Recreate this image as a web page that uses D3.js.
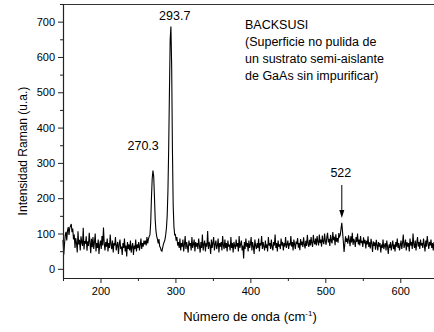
<!DOCTYPE html>
<html><head><meta charset="utf-8">
<script src="https://cdn.jsdelivr.net/npm/d3@7"></script>
<style>body{margin:0;background:#fff}svg{display:block}text{font-family:"Liberation Sans",Arial,sans-serif;fill:#000}</style>
</head><body><svg id="c" width="434" height="332"></svg>
<script>
const xStart = 150, xEnd = 645;
const intensity = [
82,40,70,95,105,80,108,118,96,116,
121,127,104,114,83,97,59,87,73,46,
106,69,82,52,92,75,65,116,55,79,
71,92,51,78,65,102,75,44,85,61,
90,56,76,100,49,73,59,83,42,69,
80,56,93,66,117,73,52,76,63,86,
49,73,59,97,69,56,80,46,73,66,
90,52,66,76,42,69,83,56,63,39,
73,59,86,49,66,35,76,56,69,52,
80,46,63,73,39,66,56,83,49,69,
59,76,52,66,86,56,73,63,80,69,
80,66,90,72,84,92,96,130,200,255,
278,262,205,140,108,92,84,72,84,64,
60,52,50,60,70,76,82,96,115,150,
220,340,500,650,686,570,340,180,120,96,
97,80,90,66,76,59,86,52,73,63,
83,49,69,93,56,76,63,46,80,66,
73,52,90,59,69,83,49,76,63,73,
56,86,66,46,76,59,97,52,69,80,
49,73,63,107,56,76,66,42,83,59,
73,90,52,69,80,56,66,86,46,73,
63,76,52,93,66,56,83,59,73,49,
80,63,69,52,90,59,73,46,76,66,
56,83,63,73,49,93,59,69,80,52,
66,29,76,56,86,63,73,49,80,59,
69,90,52,76,63,42,83,66,56,73,
59,86,49,73,66,93,56,76,63,52,
80,59,69,49,90,66,73,56,83,63,
52,76,66,97,59,73,49,80,63,69,
56,86,66,76,52,73,63,90,59,69,
80,56,73,66,93,63,76,52,83,69,
56,77,70,87,60,73,53,84,67,77,
62,89,69,58,79,65,96,72,62,82,
66,90,73,62,96,76,69,86,66,93,
77,66,97,73,83,63,94,77,70,100,
79,68,89,102,75,85,65,96,79,72,
104,81,91,67,98,77,87,74,101,91,
96,115,130,104,78,48,70,92,76,86,
71,95,81,64,92,75,102,68,85,78,
62,90,76,100,69,83,66,93,73,79,
62,89,72,82,58,79,69,92,62,75,
58,85,71,48,78,65,75,54,82,68,
52,76,63,73,46,69,59,83,56,66,
73,52,80,63,42,69,59,76,52,66,
80,56,69,49,76,63,86,59,73,52,
66,80,56,73,97,59,69,83,52,76,
63,73,49,86,66,76,56,100,69,59,
80,52,73,90,63,76,56,83,66,73,
59,86,69,49,80,63,93,73,56,76,
66,83,59,73,52,76
];
const wavenumber = d3.range(xStart, xEnd + 1);
const xTicks = [200, 300, 400, 500, 600];
const xMinor = [150, 250, 350, 450, 550];
const yTicks = [0, 100, 200, 300, 400, 500, 600, 700];
const yMinor = [50, 150, 250, 350, 450, 550, 650, 750];
const peakLabels = ["293.7", "270.3", "522"];
const noteLines = ["BACKSUSI","(Superficie no pulida de","un sustrato semi-aislante","de GaAs sin impurificar)"];

const svg = d3.select("#c");
const L = 63, R = 434, T = 4, B = 278;
const x = d3.scaleLinear().domain([150, 645]).range([L, R]);
const y = d3.scaleLinear().domain([-26, 750]).range([B, T]);

// spectrum
const data = wavenumber.map((w,i)=>[w, intensity[i]]);
svg.append("path").datum(data)
  .attr("fill","none").attr("stroke","#000").attr("stroke-width",1.1)
  .attr("d", d3.line().x(d=>x(d[0])).y(d=>y(d[1])));

// frame top
svg.append("line").attr("x1",L).attr("x2",R).attr("y1",T+0.5).attr("y2",T+0.5).attr("stroke","#333").attr("stroke-width",1.2);

// axes
svg.append("g").attr("transform",`translate(0,${B})`)
  .call(d3.axisBottom(x).tickValues(xTicks).tickSize(5).tickPadding(4).tickSizeOuter(0));
svg.append("g").attr("transform",`translate(0,${B})`)
  .call(d3.axisBottom(x).tickValues(xMinor).tickSize(3).tickFormat("").tickSizeOuter(0))
  .select(".domain").remove();
svg.append("g").attr("transform",`translate(${L},0)`)
  .call(d3.axisLeft(y).tickValues(yTicks).tickSize(5).tickPadding(3).tickSizeOuter(0));
svg.append("g").attr("transform",`translate(${L},0)`)
  .call(d3.axisLeft(y).tickValues(yMinor).tickSize(3).tickFormat("").tickSizeOuter(0))
  .select(".domain").remove();
svg.selectAll(".domain").attr("stroke","#222").attr("stroke-width",1.2);
svg.selectAll(".tick line").attr("stroke","#222");
svg.selectAll(".tick text").style("font-size","11px").attr("fill","#000").style("font-family","'Liberation Sans',Arial,sans-serif");

// peak labels
const fs = 12.5;
svg.append("text").attr("x", x(293.7)+4).attr("y", 20).attr("text-anchor","middle").style("font-size",fs+"px").text(peakLabels[0]);
svg.append("text").attr("x", x(270.3)-10).attr("y", 150).attr("text-anchor","middle").style("font-size",fs+"px").text(peakLabels[1]);
svg.append("text").attr("x", x(522)-1).attr("y", 177).attr("text-anchor","middle").style("font-size",fs+"px").text(peakLabels[2]);
// arrow
const ax = x(522);
svg.append("line").attr("x1",ax).attr("x2",ax).attr("y1",185).attr("y2",212).attr("stroke","#000").attr("stroke-width",1);
svg.append("path").attr("d",`M${ax-2.5},${210} L${ax+2.5},${210} L${ax},${218} Z`).attr("fill","#000");

// note
const note = svg.append("text").attr("x",245).attr("y",29).style("font-size",fs+"px");
noteLines.forEach((s,i)=>note.append("tspan").attr("x",245).attr("y",29+i*17).text(s));

// axis titles
svg.append("text").attr("transform",`translate(27,${(T+B)/2+10}) rotate(-90)`).attr("text-anchor","middle").style("font-size","12px").text("Intensidad Raman (u.a.)");
const xt = svg.append("text").attr("x",250).attr("y",321).attr("text-anchor","middle").style("font-size","13px");
xt.append("tspan").text("Número de onda (cm");
xt.append("tspan").attr("dy",-5).style("font-size","8px").text("-1");
xt.append("tspan").attr("dy",5).text(")");
</script></body></html>
